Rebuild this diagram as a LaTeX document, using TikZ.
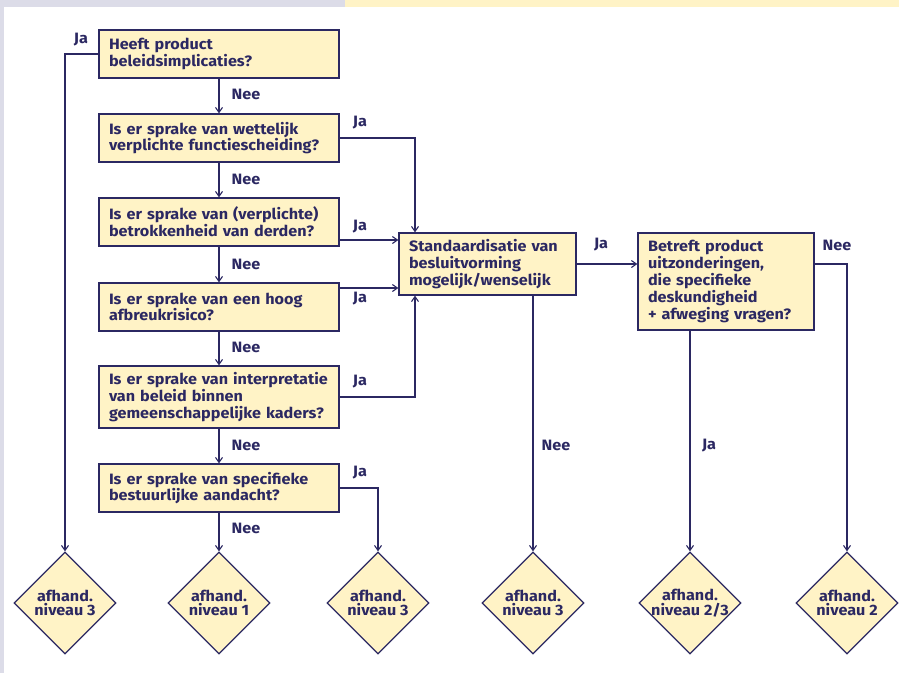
\documentclass[tikz,border=0pt]{standalone}
\usepackage{fontspec}
\setmainfont{Fira Sans}[FakeStretch=1.08]
\usetikzlibrary{shapes.geometric,arrows.meta,calc}
\definecolor{navy}{HTML}{2B2862}
\definecolor{cream}{HTML}{FFF3C6}
\definecolor{lav}{HTML}{DCDCE8}
\definecolor{ystrip}{HTML}{FFF3C6}
\begin{document}
\begin{tikzpicture}[x=1pt,y=-1pt,
  every node/.style={text=navy},
  txt/.style={font=\fontsize{15}{16.8}\selectfont\bfseries},
  qbox/.style={draw=navy, fill=cream, line width=1.3pt, align=left, inner xsep=10pt, inner ysep=0pt, txt},
  dia/.style={shape=diamond, draw=navy, fill=cream, line width=1.3pt, minimum width=102pt, minimum height=102pt, inner sep=0pt},
  lab/.style={txt, inner sep=0pt},
  arr/.style={draw=navy, line width=1.2pt, -{Straight Barb[length=5pt,width=7pt,line width=1.1pt]}},
  ln/.style={draw=navy, line width=1.2pt}]
\useasboundingbox (0,0) rectangle (899,673);
\fill[white] (0,0) rectangle (899,673);
\fill[lav] (0,0) rectangle (345,7);
\fill[ystrip] (345,0) rectangle (899,7);
\fill[lav] (0,0) rectangle (4,673);

\coordinate (y240) at (0,240);
\coordinate (y288) at (0,288);
\coordinate (y264) at (0,264);
\coordinate (x415) at (415,0);

\node[qbox, text width=220pt, minimum height=48pt] (b1) at (219,54) {Heeft product\\beleidsimplicaties?};
\node[qbox, text width=220pt, minimum height=48pt] (b2) at (219,138) {Is er sprake van wettelijk\\verplichte functiescheiding?};
\node[qbox, text width=220pt, minimum height=48pt] (b3) at (219,222) {Is er sprake van (verplichte)\\betrokkenheid van derden?};
\node[qbox, text width=220pt, minimum height=48pt] (b4) at (219,307) {Is er sprake van een hoog\\afbreukrisico?};
\node[qbox, text width=220pt, minimum height=62pt] (b5) at (219,397) {Is er sprake van interpretatie\\van beleid binnen\\gemeenschappelijke kaders?};
\node[qbox, text width=220pt, minimum height=48pt] (b6) at (219,488) {Is er sprake van specifieke\\bestuurlijke aandacht?};
\node[qbox, text width=157pt, minimum height=62pt] (std) at (487.5,264) {Standaardisatie van\\besluitvorming\\mogelijk/wenselijk};
\node[qbox, text width=156pt, minimum height=97pt] (bet) at (726,281.5) {Betreft product\\uitzonderingen,\\die specifieke\\deskundigheid\\+ afweging vragen?};

\foreach \n/\x/\t in {d1/65/{niveau 3}, d2/219/{niveau 1}, d3/378/{niveau 3}, d4/533/{niveau 3}, d5/690/{niveau 2/3}, d6/847/{niveau 2}}{
  \node[dia, label={[align=center, text=navy, font=\fontsize{15}{14.5}\selectfont\bfseries]center:afhand.\\\t}] (\n) at (\x,603) {};
}

% connectors
\draw[arr] (b1.west) -| (d1.north);
\draw[arr] (b1.south) -- (b2.north);
\draw[arr] (b2.south) -- (b3.north);
\draw[arr] (b3.south) -- (b4.north);
\draw[arr] (b4.south) -- (b5.north);
\draw[arr] (b5.south) -- (b6.north);
\draw[arr] (b6.south) -- (d2.north);
\draw[arr] (b2.east) -| (x415 |- std.north);
\draw[arr] (b3.east |- y240) -- (std.west |- y240);
\draw[arr] (b4.east |- y288) -- (std.west |- y288);
\draw[arr] (b5.east) -| (x415 |- std.south);
\draw[arr] (b6.east) -| (d3.north);
\draw[arr] (std.east) -- (bet.west |- std.east);
\draw[arr] (bet.east |- y264) -| (d6.north);
\draw[arr] (d4.north |- std.south) -- (d4.north);
\draw[arr] (d5.north |- bet.south) -- (d5.north);

% labels
\node[lab] (l1) at (81,40) {Ja};
\node[lab] (n1) at (246,94) {Nee};
\node[lab] (l2) at (360,123) {Ja};
\node[lab] (n2) at (246,179) {Nee};
\node[lab] (l3) at (360,227) {Ja};
\node[lab] (n3) at (246,264) {Nee};
\node[lab] (l4) at (360,299) {Ja};
\node[lab] (n4) at (246,347) {Nee};
\node[lab] (l5) at (360,382) {Ja};
\node[lab] (n5) at (246,445) {Nee};
\node[lab] (l6) at (360,473) {Ja};
\node[lab] (n6) at (246,528) {Nee};
\node[lab] (l7) at (601,245) {Ja};
\node[lab] (n7) at (837,245) {Nee};
\node[lab] (n8) at (556,445) {Nee};
\node[lab] (l8) at (709,446) {Ja};
\end{tikzpicture}
\end{document}
